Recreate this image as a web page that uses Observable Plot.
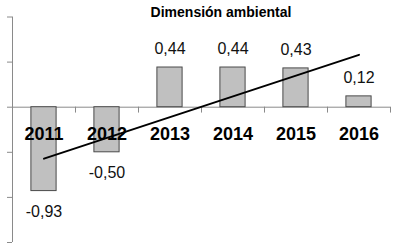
<!DOCTYPE html>
<html>
<head>
<meta charset="utf-8">
<script src="https://cdn.jsdelivr.net/npm/d3@7"></script>
<script src="https://cdn.jsdelivr.net/npm/@observablehq/plot@0.6"></script>
<style>
  html, body { margin: 0; padding: 0; background: #fff; }
</style>
</head>
<body>
<div id="chart"></div>
<script>
const title = "Dimensión ambiental";
const years = ["2011", "2012", "2013", "2014", "2015", "2016"];
const values = [-0.93, -0.50, 0.44, 0.44, 0.43, 0.12];
const valueLabels = ["-0,93", "-0,50", "0,44", "0,44", "0,43", "0,12"];
const trendYears = ["2011", "2016"];
const trendValues = [-0.57, 0.58];
const yTicks = [-1.5, -1, -0.5, 0, 0.5, 1];

const rows = years.map((year, i) => ({year, i, value: values[i], label: valueLabels[i]}));
const trend = trendYears.map((year, k) => ({i: years.indexOf(year), value: trendValues[k]}));
const boundaries = d3.range(1, years.length + 1);

const axisColor = "#8a8a8a";

const chart = Plot.plot({
  width: 393,
  height: 245,
  marginLeft: 12,
  marginRight: 3,
  marginTop: 16.5,
  marginBottom: 3,
  style: {fontFamily: "'Liberation Sans', Arial, sans-serif", background: "#fff"},
  x: {type: "linear", domain: [0, years.length], axis: null},
  y: {domain: [-1.5, 1], axis: null},
  marks: [
    Plot.ruleY([0], {stroke: axisColor, strokeWidth: 1}),
    Plot.ruleX(boundaries, {y1: 0, y2: -0.065, stroke: axisColor, strokeWidth: 1}),
    Plot.ruleX([0], {y1: -1.5, y2: 1, stroke: axisColor, strokeWidth: 1}),
    Plot.axisY({ticks: yTicks, tickSize: 5, tickFormat: () => "", label: null, stroke: axisColor, anchor: "left"}),
    Plot.rectY(rows, {x1: d => d.i + 0.3, x2: d => d.i + 0.7, y: "value", fill: "#c0c0c0", stroke: "#4a4a4a", strokeWidth: 1}),
    Plot.text(rows.filter(d => d.value >= 0), {x: d => d.i + 0.5, y: "value", text: "label", dy: -19, lineAnchor: "middle", fontSize: 16, fill: "#111"}),
    Plot.text(rows.filter(d => d.value < 0), {x: d => d.i + 0.5, y: "value", text: "label", dy: 21, lineAnchor: "middle", fontSize: 16, fill: "#111"}),
    Plot.text(rows, {x: d => d.i + 0.5, y: () => 0, text: "year", dy: 27, lineAnchor: "middle", fontSize: 18, fontWeight: "bold", fill: "#000"}),
    Plot.line(trend, {x: d => d.i + 0.5, y: "value", stroke: "#000", strokeWidth: 2}),
    Plot.text([title], {frameAnchor: "top", dx: 19.5, dy: -4, lineAnchor: "middle", fontSize: 14, fontWeight: "bold", fill: "#000"})
  ]
});
document.getElementById("chart").appendChild(chart);
</script>
</body>
</html>
